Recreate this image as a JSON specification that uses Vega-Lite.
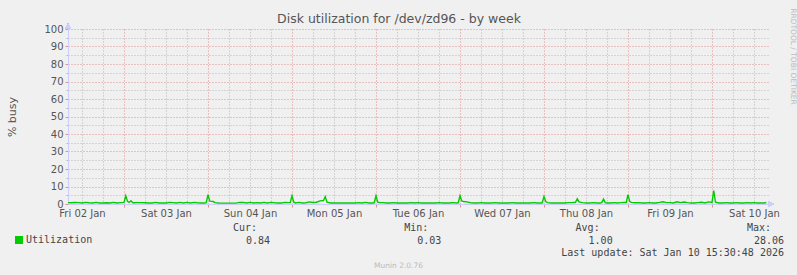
{
  "$schema": "https://vega.github.io/schema/vega-lite/v6.json",
  "background": "#f0f0f0",
  "padding": {"left": 6, "top": 7, "right": 6, "bottom": 8},
  "bounds": "flush",
  "spacing": 24,
  "config": {"view": {"stroke": null}, "font": "DejaVu Sans"},
  "datasets": {
    "util": [
      {"t":"2026-01-02T08:00","v":0.8},{"t":"2026-01-02T09:00","v":0.7},{"t":"2026-01-02T10:00","v":0.9},{"t":"2026-01-02T11:00","v":0.8},{"t":"2026-01-02T12:00","v":0.6},{"t":"2026-01-02T13:00","v":0.9},{"t":"2026-01-02T14:00","v":0.7},{"t":"2026-01-02T15:00","v":0.6},{"t":"2026-01-02T16:00","v":0.9},{"t":"2026-01-02T17:00","v":0.6},{"t":"2026-01-02T18:00","v":0.6},{"t":"2026-01-02T19:00","v":0.7},{"t":"2026-01-02T20:00","v":0.6},{"t":"2026-01-02T21:00","v":0.9},{"t":"2026-01-02T22:00","v":0.6},{"t":"2026-01-02T23:00","v":0.8},
      {"t":"2026-01-03T00:00","v":0.9},{"t":"2026-01-03T00:30","v":4.7},{"t":"2026-01-03T01:00","v":1.5},{"t":"2026-01-03T01:30","v":0.9},{"t":"2026-01-03T02:00","v":1.9},{"t":"2026-01-03T02:30","v":0.7},{"t":"2026-01-03T03:00","v":0.7},{"t":"2026-01-03T04:00","v":0.8},{"t":"2026-01-03T05:00","v":0.8},{"t":"2026-01-03T06:00","v":0.7},{"t":"2026-01-03T07:00","v":0.6},{"t":"2026-01-03T08:00","v":0.6},{"t":"2026-01-03T09:00","v":0.9},{"t":"2026-01-03T10:00","v":0.6},{"t":"2026-01-03T11:00","v":0.6},{"t":"2026-01-03T12:00","v":0.6},{"t":"2026-01-03T13:00","v":0.9},{"t":"2026-01-03T14:00","v":0.8},{"t":"2026-01-03T15:00","v":0.6},{"t":"2026-01-03T16:00","v":0.9},{"t":"2026-01-03T17:00","v":0.6},{"t":"2026-01-03T18:00","v":0.9},{"t":"2026-01-03T19:00","v":0.6},{"t":"2026-01-03T20:00","v":0.9},{"t":"2026-01-03T21:00","v":0.7},{"t":"2026-01-03T22:00","v":0.6},{"t":"2026-01-03T23:00","v":0.6},{"t":"2026-01-03T23:30","v":0.8},
      {"t":"2026-01-04T00:00","v":5.3},{"t":"2026-01-04T00:30","v":1.6},{"t":"2026-01-04T01:00","v":1.5},{"t":"2026-01-04T01:30","v":1.4},{"t":"2026-01-04T02:00","v":0.8},{"t":"2026-01-04T03:00","v":0.6},{"t":"2026-01-04T04:00","v":0.5},{"t":"2026-01-04T05:00","v":0.5},{"t":"2026-01-04T06:00","v":0.5},{"t":"2026-01-04T07:00","v":0.5},{"t":"2026-01-04T08:00","v":0.5},{"t":"2026-01-04T09:00","v":0.9},{"t":"2026-01-04T10:00","v":0.9},{"t":"2026-01-04T11:00","v":0.6},{"t":"2026-01-04T12:00","v":0.9},{"t":"2026-01-04T13:00","v":0.6},{"t":"2026-01-04T14:00","v":0.8},{"t":"2026-01-04T15:00","v":0.6},{"t":"2026-01-04T16:00","v":0.9},{"t":"2026-01-04T17:00","v":0.6},{"t":"2026-01-04T18:00","v":0.9},{"t":"2026-01-04T19:00","v":0.7},{"t":"2026-01-04T20:00","v":0.6},{"t":"2026-01-04T21:00","v":0.6},{"t":"2026-01-04T22:00","v":0.9},{"t":"2026-01-04T23:00","v":0.8},{"t":"2026-01-04T23:30","v":0.8},
      {"t":"2026-01-05T00:00","v":4.7},{"t":"2026-01-05T00:30","v":1.0},{"t":"2026-01-05T01:00","v":0.6},{"t":"2026-01-05T02:00","v":0.9},{"t":"2026-01-05T03:00","v":0.6},{"t":"2026-01-05T04:00","v":0.7},{"t":"2026-01-05T05:00","v":1.2},{"t":"2026-01-05T06:00","v":0.9},{"t":"2026-01-05T07:00","v":1.0},{"t":"2026-01-05T08:00","v":1.8},{"t":"2026-01-05T09:00","v":2.0},{"t":"2026-01-05T09:30","v":4.2},{"t":"2026-01-05T10:00","v":1.0},{"t":"2026-01-05T11:00","v":0.6},{"t":"2026-01-05T12:00","v":0.6},{"t":"2026-01-05T13:00","v":0.6},{"t":"2026-01-05T14:00","v":0.6},{"t":"2026-01-05T15:00","v":0.6},{"t":"2026-01-05T16:00","v":0.6},{"t":"2026-01-05T17:00","v":0.6},{"t":"2026-01-05T18:00","v":0.6},{"t":"2026-01-05T19:00","v":0.8},{"t":"2026-01-05T20:00","v":0.6},{"t":"2026-01-05T21:00","v":0.9},{"t":"2026-01-05T22:00","v":0.6},{"t":"2026-01-05T23:00","v":0.6},{"t":"2026-01-05T23:30","v":0.7},
      {"t":"2026-01-06T00:00","v":4.7},{"t":"2026-01-06T00:30","v":1.1},{"t":"2026-01-06T01:00","v":0.8},{"t":"2026-01-06T02:00","v":0.8},{"t":"2026-01-06T03:00","v":0.6},{"t":"2026-01-06T04:00","v":0.6},{"t":"2026-01-06T05:00","v":0.8},{"t":"2026-01-06T06:00","v":0.6},{"t":"2026-01-06T07:00","v":0.6},{"t":"2026-01-06T08:00","v":0.6},{"t":"2026-01-06T09:00","v":0.6},{"t":"2026-01-06T10:00","v":0.8},{"t":"2026-01-06T11:00","v":0.6},{"t":"2026-01-06T12:00","v":0.8},{"t":"2026-01-06T13:00","v":0.6},{"t":"2026-01-06T14:00","v":0.6},{"t":"2026-01-06T15:00","v":0.6},{"t":"2026-01-06T16:00","v":0.6},{"t":"2026-01-06T17:00","v":0.6},{"t":"2026-01-06T18:00","v":0.8},{"t":"2026-01-06T19:00","v":0.6},{"t":"2026-01-06T20:00","v":0.6},{"t":"2026-01-06T21:00","v":0.6},{"t":"2026-01-06T22:00","v":0.8},{"t":"2026-01-06T23:00","v":0.6},{"t":"2026-01-06T23:30","v":0.7},
      {"t":"2026-01-07T00:00","v":4.7},{"t":"2026-01-07T00:30","v":1.7},{"t":"2026-01-07T01:00","v":1.4},{"t":"2026-01-07T02:00","v":1.2},{"t":"2026-01-07T03:00","v":0.7},{"t":"2026-01-07T04:00","v":0.6},{"t":"2026-01-07T05:00","v":0.6},{"t":"2026-01-07T06:00","v":0.8},{"t":"2026-01-07T07:00","v":0.6},{"t":"2026-01-07T08:00","v":0.6},{"t":"2026-01-07T09:00","v":0.6},{"t":"2026-01-07T10:00","v":0.8},{"t":"2026-01-07T11:00","v":0.6},{"t":"2026-01-07T12:00","v":0.6},{"t":"2026-01-07T13:00","v":0.6},{"t":"2026-01-07T14:00","v":0.6},{"t":"2026-01-07T15:00","v":0.8},{"t":"2026-01-07T16:00","v":0.6},{"t":"2026-01-07T17:00","v":0.6},{"t":"2026-01-07T18:00","v":0.6},{"t":"2026-01-07T19:00","v":0.6},{"t":"2026-01-07T20:00","v":0.6},{"t":"2026-01-07T21:00","v":0.8},{"t":"2026-01-07T22:00","v":0.6},{"t":"2026-01-07T23:00","v":0.6},{"t":"2026-01-07T23:30","v":0.7},
      {"t":"2026-01-08T00:00","v":4.2},{"t":"2026-01-08T00:30","v":1.4},{"t":"2026-01-08T01:00","v":0.8},{"t":"2026-01-08T02:00","v":0.6},{"t":"2026-01-08T03:00","v":0.6},{"t":"2026-01-08T04:00","v":0.6},{"t":"2026-01-08T05:00","v":0.6},{"t":"2026-01-08T06:00","v":0.6},{"t":"2026-01-08T07:00","v":0.8},{"t":"2026-01-08T08:00","v":0.8},{"t":"2026-01-08T09:00","v":1.0},{"t":"2026-01-08T09:30","v":3.0},{"t":"2026-01-08T10:00","v":1.2},{"t":"2026-01-08T11:00","v":0.8},{"t":"2026-01-08T12:00","v":0.6},{"t":"2026-01-08T13:00","v":0.6},{"t":"2026-01-08T14:00","v":0.8},{"t":"2026-01-08T15:00","v":0.6},{"t":"2026-01-08T16:00","v":0.6},{"t":"2026-01-08T16:30","v":0.8},{"t":"2026-01-08T17:00","v":2.8},{"t":"2026-01-08T17:30","v":0.8},{"t":"2026-01-08T18:00","v":0.6},{"t":"2026-01-08T19:00","v":0.6},{"t":"2026-01-08T20:00","v":0.8},{"t":"2026-01-08T21:00","v":0.6},{"t":"2026-01-08T22:00","v":0.8},{"t":"2026-01-08T23:00","v":0.9},{"t":"2026-01-08T23:30","v":0.9},
      {"t":"2026-01-09T00:00","v":5.3},{"t":"2026-01-09T00:30","v":1.4},{"t":"2026-01-09T01:00","v":0.9},{"t":"2026-01-09T02:00","v":0.7},{"t":"2026-01-09T03:00","v":0.8},{"t":"2026-01-09T04:00","v":0.6},{"t":"2026-01-09T05:00","v":0.6},{"t":"2026-01-09T06:00","v":0.8},{"t":"2026-01-09T07:00","v":0.6},{"t":"2026-01-09T08:00","v":0.6},{"t":"2026-01-09T09:00","v":0.9},{"t":"2026-01-09T10:00","v":1.3},{"t":"2026-01-09T11:00","v":0.8},{"t":"2026-01-09T12:00","v":0.8},{"t":"2026-01-09T13:00","v":0.6},{"t":"2026-01-09T14:00","v":1.3},{"t":"2026-01-09T15:00","v":0.8},{"t":"2026-01-09T16:00","v":1.1},{"t":"2026-01-09T17:00","v":0.8},{"t":"2026-01-09T18:00","v":0.6},{"t":"2026-01-09T19:00","v":0.6},{"t":"2026-01-09T20:00","v":0.8},{"t":"2026-01-09T21:00","v":1.0},{"t":"2026-01-09T22:00","v":0.6},{"t":"2026-01-09T23:00","v":1.2},
      {"t":"2026-01-10T00:00","v":0.9},{"t":"2026-01-10T00:30","v":7.6},{"t":"2026-01-10T01:00","v":1.0},{"t":"2026-01-10T02:00","v":0.6},{"t":"2026-01-10T03:00","v":0.6},{"t":"2026-01-10T04:00","v":0.8},{"t":"2026-01-10T05:00","v":0.6},{"t":"2026-01-10T06:00","v":0.6},{"t":"2026-01-10T07:00","v":0.8},{"t":"2026-01-10T08:00","v":0.6},{"t":"2026-01-10T09:00","v":0.6},{"t":"2026-01-10T10:00","v":0.8},{"t":"2026-01-10T11:00","v":0.6},{"t":"2026-01-10T12:00","v":0.8},{"t":"2026-01-10T13:00","v":0.6},{"t":"2026-01-10T14:00","v":0.6},{"t":"2026-01-10T15:00","v":0.6},{"t":"2026-01-10T15:30","v":0.84}
    ],
    "stats": [
      {"c":"Cur","r":"a","t":"Cur:"},{"c":"Min","r":"a","t":"Min:"},{"c":"Avg","r":"a","t":"Avg:"},{"c":"Max","r":"a","t":"Max:"},
      {"c":"Cur","r":"b","t":"0.84"},{"c":"Min","r":"b","t":"0.03"},{"c":"Avg","r":"b","t":"1.00"},{"c":"Max","r":"b","t":"28.06"},
      {"c":"Max","r":"c","t":"Last update: Sat Jan 10 15:30:48 2026"}
    ]
  },
  "vconcat": [
    {
      "width": 700,
      "height": 175,
      "title": {"text": "Disk utilization for /dev/zd96 - by week", "fontSize": 12.5, "fontWeight": "normal", "color": "#555555", "font": "DejaVu Sans", "dx": -19, "offset": -18, "frame": "group"},
      "data": {"name": "util"},
      "layer": [
        {
          "mark": {"type": "line", "opacity": 0},
          "encoding": {
            "x": {"field": "t", "type": "temporal", "scale": {"domain": [{"year": 2026, "month": 1, "date": 2, "hours": 8}, {"year": 2026, "month": 1, "date": 10, "hours": 16}]},
              "axis": {"orient": "bottom", "grid": true, "gridColor": "#b8b8b8", "gridDash": [1, 2], "gridOpacity": 1, "values": [
                {"year":2026,"month":1,"date":2,"hours":12},{"year":2026,"month":1,"date":2,"hours":18},
                {"year":2026,"month":1,"date":3,"hours":6},{"year":2026,"month":1,"date":3,"hours":12},{"year":2026,"month":1,"date":3,"hours":18},
                {"year":2026,"month":1,"date":4,"hours":6},{"year":2026,"month":1,"date":4,"hours":12},{"year":2026,"month":1,"date":4,"hours":18},
                {"year":2026,"month":1,"date":5,"hours":6},{"year":2026,"month":1,"date":5,"hours":12},{"year":2026,"month":1,"date":5,"hours":18},
                {"year":2026,"month":1,"date":6,"hours":6},{"year":2026,"month":1,"date":6,"hours":12},{"year":2026,"month":1,"date":6,"hours":18},
                {"year":2026,"month":1,"date":7,"hours":6},{"year":2026,"month":1,"date":7,"hours":12},{"year":2026,"month":1,"date":7,"hours":18},
                {"year":2026,"month":1,"date":8,"hours":6},{"year":2026,"month":1,"date":8,"hours":12},{"year":2026,"month":1,"date":8,"hours":18},
                {"year":2026,"month":1,"date":9,"hours":6},{"year":2026,"month":1,"date":9,"hours":12},{"year":2026,"month":1,"date":9,"hours":18},
                {"year":2026,"month":1,"date":10,"hours":6},{"year":2026,"month":1,"date":10,"hours":12}],
                "labels": false, "ticks": false, "domain": false, "title": null}},
            "y": {"field": "v", "type": "quantitative", "scale": {"domain": [0, 100], "nice": false},
              "axis": {"orient": "left", "values": [5, 15, 25, 35, 45, 55, 65, 75, 85, 95], "grid": true, "gridColor": "#b8b8b8", "gridDash": [1, 2], "gridOpacity": 1, "labels": false, "ticks": true, "tickSize": 2, "tickColor": "#b8b8b8", "domain": false, "title": null}}
          }
        },
        {
          "mark": {"type": "line", "opacity": 0},
          "encoding": {
            "x": {"field": "t", "type": "temporal", "scale": {"domain": [{"year": 2026, "month": 1, "date": 2, "hours": 8}, {"year": 2026, "month": 1, "date": 10, "hours": 16}]},
              "axis": {"orient": "bottom", "grid": true, "gridColor": "#e09090", "gridDash": [1, 2], "gridOpacity": 1, "values": [
                {"year":2026,"month":1,"date":3},{"year":2026,"month":1,"date":4},{"year":2026,"month":1,"date":5},{"year":2026,"month":1,"date":6},
                {"year":2026,"month":1,"date":7},{"year":2026,"month":1,"date":8},{"year":2026,"month":1,"date":9},{"year":2026,"month":1,"date":10}],
                "labels": false, "ticks": true, "tickSize": 3, "tickColor": "#e09090", "domain": false, "title": null}},
            "y": {"field": "v", "type": "quantitative", "scale": {"domain": [0, 100], "nice": false},
              "axis": {"orient": "left", "values": [0, 10, 20, 30, 40, 50, 60, 70, 80, 90, 100], "grid": true, "gridColor": "#e09090", "gridDash": [1, 2], "gridOpacity": 1, "labels": true, "labelFont": "DejaVu Sans", "labelFontSize": 10, "labelColor": "#555555", "labelPadding": 2, "ticks": true, "tickSize": 3, "tickColor": "#e09090", "domain": true, "domainColor": "#ccccff", "title": "% busy", "titleFont": "DejaVu Sans", "titleFontSize": 11, "titleFontWeight": "normal", "titleColor": "#555555", "titlePadding": 26}}
          }
        },
        {
          "mark": {"type": "line", "color": "#00cc00", "strokeWidth": 1.4},
          "encoding": {
            "x": {"field": "t", "type": "temporal", "scale": {"domain": [{"year": 2026, "month": 1, "date": 2, "hours": 8}, {"year": 2026, "month": 1, "date": 10, "hours": 16}]},
              "axis": {"orient": "bottom", "values": [{"year": 2026, "month": 1, "date": 2, "hours": 12}, {"year": 2026, "month": 1, "date": 3, "hours": 12}, {"year": 2026, "month": 1, "date": 4, "hours": 12}, {"year": 2026, "month": 1, "date": 5, "hours": 12}, {"year": 2026, "month": 1, "date": 6, "hours": 12}, {"year": 2026, "month": 1, "date": 7, "hours": 12}, {"year": 2026, "month": 1, "date": 8, "hours": 12}, {"year": 2026, "month": 1, "date": 9, "hours": 12}, {"year": 2026, "month": 1, "date": 10, "hours": 12}],
                "format": "%a %d %b", "grid": false, "ticks": false, "labelPadding": 4, "labelFont": "DejaVu Sans", "labelFontSize": 10, "labelColor": "#555555", "labelFlush": false, "labelOverlap": false, "domain": true, "domainColor": "#ccccff", "title": null}},
            "y": {"field": "v", "type": "quantitative", "scale": {"domain": [0, 100], "nice": false},
              "axis": {"orient": "right", "labels": false, "ticks": false, "grid": false, "domain": false, "title": "RRDTOOL / TOBI OETIKER", "titleFont": "DejaVu Sans", "titleFontSize": 7.5, "titleFontWeight": "normal", "titleColor": "#bbbbbb", "titleAlign": "center", "titleX": 20, "titleY": 27}},
            "color": {"datum": "Utilization", "type": "nominal", "scale": {"range": ["#00cc00"]},
              "legend": {"orient": "none", "legendX": -54, "legendY": 206, "title": null, "symbolType": "square", "symbolSize": 42, "symbolFillColor": "#00cc00", "symbolStrokeColor": "#00cc00", "labelFont": "DejaVu Sans Mono", "labelFontSize": 10, "labelColor": "#444444", "labelOffset": 2}}
          }
        },
        {
          "mark": {"type": "point", "shape": "triangle-up", "filled": true, "size": 30, "color": "#ccccff", "opacity": 1, "yOffset": -3},
          "encoding": {
            "x": {"datum": {"year": 2026, "month": 1, "date": 2, "hours": 8}, "type": "temporal", "axis": null},
            "y": {"datum": 100, "type": "quantitative", "axis": null}
          }
        },
        {
          "mark": {"type": "point", "shape": "triangle-right", "filled": true, "size": 30, "color": "#ccccff", "opacity": 1, "xOffset": 3},
          "encoding": {
            "x": {"datum": {"year": 2026, "month": 1, "date": 10, "hours": 16}, "type": "temporal", "axis": null},
            "y": {"datum": 0, "type": "quantitative", "axis": null}
          }
        }
      ],
      "resolve": {"axis": {"x": "independent", "y": "independent"}}
    },
    {
      "width": 514,
      "height": 25,
      "data": {"name": "stats"},
      "encoding": {
        "x": {"field": "c", "type": "nominal", "sort": ["Cur", "Min", "Avg", "Max"], "scale": {"type": "point", "padding": 0},
          "axis": {"labels": false, "ticks": false, "domain": false, "grid": false, "title": "Munin 2.0.76", "titleFont": "DejaVu Sans", "titleFontSize": 7.5, "titleFontWeight": "normal", "titleColor": "#bbbbbb", "titlePadding": 8, "titleAlign": "center", "titleX": 330}},
        "y": {"field": "r", "type": "nominal", "scale": {"type": "point", "padding": 0}, "axis": null},
        "text": {"field": "t"}
      },
      "layer": [
        {"transform": [{"filter": "datum.r == 'a'"}], "mark": {"type": "text", "align": "right", "baseline": "middle", "dx": 189, "font": "DejaVu Sans Mono", "fontSize": 10, "color": "#444444"}},
        {"transform": [{"filter": "datum.r != 'a'"}], "mark": {"type": "text", "align": "right", "baseline": "middle", "dx": 202, "font": "DejaVu Sans Mono", "fontSize": 10, "color": "#444444"}}
      ]
    }
  ]
}
